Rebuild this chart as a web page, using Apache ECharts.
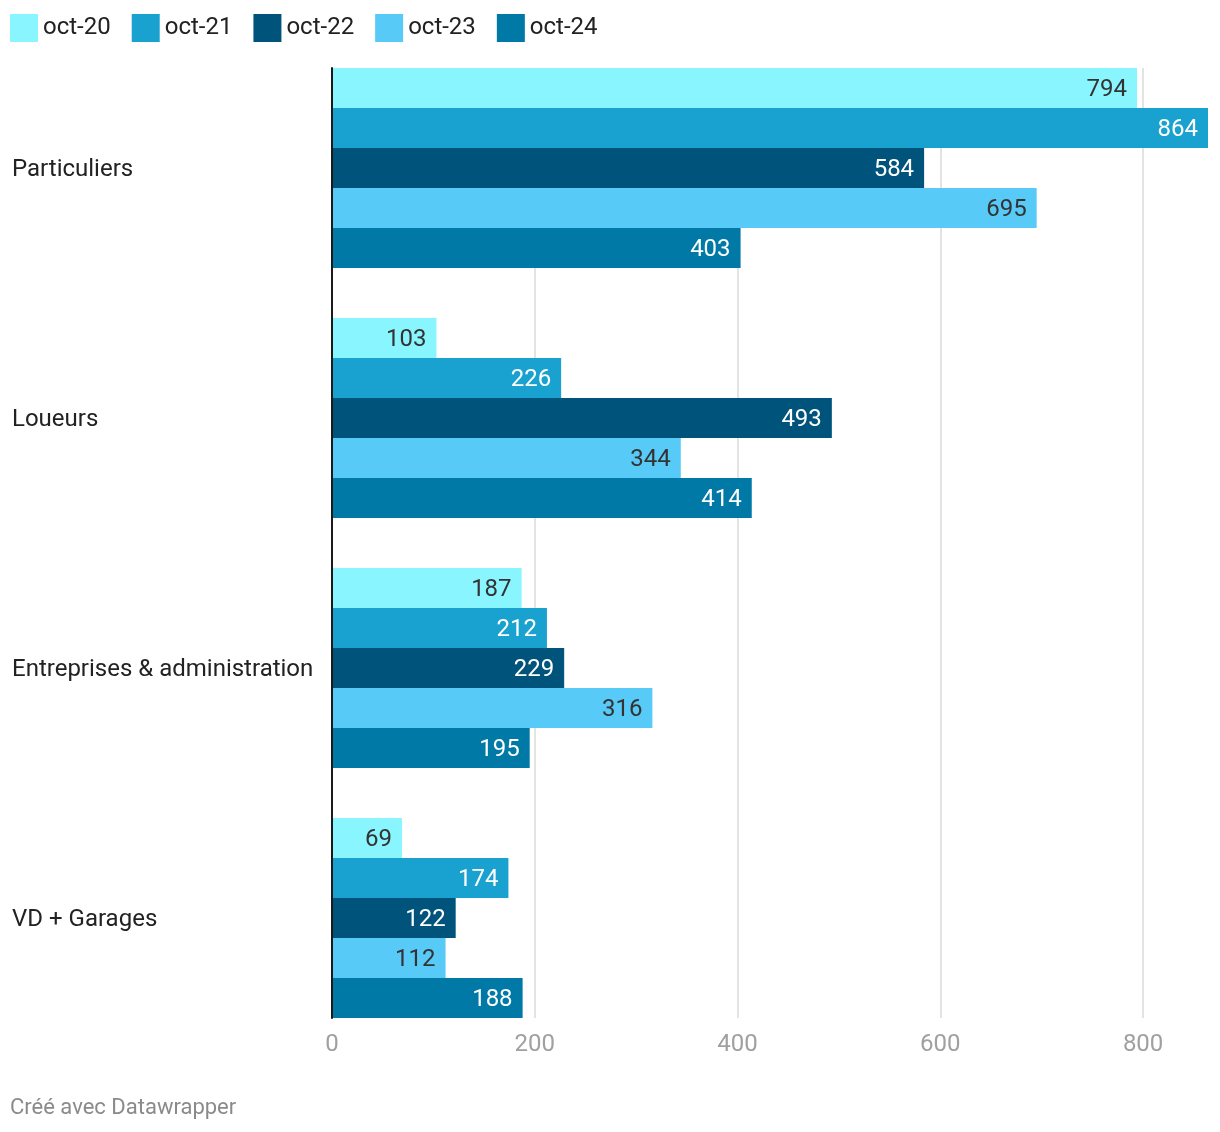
<!DOCTYPE html>
<html><head><meta charset="utf-8">
<script src="https://cdn.jsdelivr.net/npm/echarts@6/dist/echarts.min.js"></script>
<style>html,body{margin:0;padding:0;background:#fff}#c{width:1220px;height:1132px}</style>
</head><body><div id="c"></div>
<script>
const categories = ['Particuliers', 'Loueurs', 'Entreprises & administration', 'VD + Garages'];
const seriesNames = ['oct-20', 'oct-21', 'oct-22', 'oct-23', 'oct-24'];
const oct20 = [794, 103, 187, 69];
const oct21 = [864, 226, 212, 174];
const oct22 = [584, 493, 229, 122];
const oct23 = [695, 344, 316, 112];
const oct24 = [403, 414, 195, 188];
const xTicks = [0, 200, 400, 600, 800];

const values = [oct20, oct21, oct22, oct23, oct24];
const colors = ['#88f5ff', '#19a1cf', '#00547c', '#58caf7', '#0079a6'];
const labelColors = ['#333333', '#ffffff', '#ffffff', '#333333', '#ffffff'];
const FONT = 'Roboto';

const chart = echarts.init(document.getElementById('c'), null, {renderer: 'canvas'});
chart.setOption({
  animation: false,
  textStyle: {fontFamily: FONT},
  title: {
    text: 'Créé avec Datawrapper', left: 10, top: 1097, padding: 0,
    textStyle: {fontFamily: FONT, fontSize: 22, fontWeight: 'normal', color: '#8a8a8a'}
  },
  legend: {
    data: seriesNames, left: 10, top: 14, padding: 0,
    itemWidth: 28, itemHeight: 28, itemGap: 21, icon: 'rect',
    textStyle: {fontFamily: FONT, fontSize: 24, color: '#222'}
  },
  grid: [
    {left: 332, right: 12, top: 43, bottom: 89},
    {left: 332, right: 12, top: 68, bottom: 114}
  ],
  xAxis: [
    {gridIndex: 0, type: 'value', min: 0, max: 864, interval: 200,
     axisLine: {show: false}, axisTick: {show: false}, axisLabel: {show: false}, splitLine: {show: false}},
    {gridIndex: 1, type: 'value', min: 0, max: 864, interval: 200,
     axisLine: {show: false}, axisTick: {show: false},
     axisLabel: {show: true, color: '#a0a0a0', fontSize: 24, margin: 15, fontFamily: FONT,
       showMaxLabel: false,
       formatter: v => xTicks.includes(v) ? String(v) : ''},
     splitLine: {show: true, showMaxLine: false, lineStyle: {color: '#e3e3e3', width: 2}}}
  ],
  yAxis: [
    {gridIndex: 0, type: 'category', data: categories, inverse: true,
     axisLine: {show: false}, axisTick: {show: false}, splitLine: {show: false},
     axisLabel: {align: 'left', margin: 320, fontSize: 24, color: '#222', fontFamily: FONT,
       formatter: v => '{a|' + v + '}',
       rich: {a: {fontSize: 24, color: '#222', fontFamily: FONT, padding: [4, 0, 0, 0]}}}},
    {gridIndex: 1, type: 'value', min: 0, max: 1,
     axisLine: {show: true, onZero: false, lineStyle: {color: '#1a1a1a', width: 2}},
     axisTick: {show: false}, axisLabel: {show: false}, splitLine: {show: false}, z: 5}
  ],
  series: values.map((arr, i) => ({
    name: seriesNames[i], type: 'bar', xAxisIndex: 0, yAxisIndex: 0,
    data: arr, barGap: '0%', barCategoryGap: '20%',
    itemStyle: {color: colors[i]},
    label: {show: true, position: 'insideRight', distance: 10, offset: [0, 2], color: labelColors[i],
      fontSize: 24, fontFamily: FONT}
  }))
});
</script></body></html>
